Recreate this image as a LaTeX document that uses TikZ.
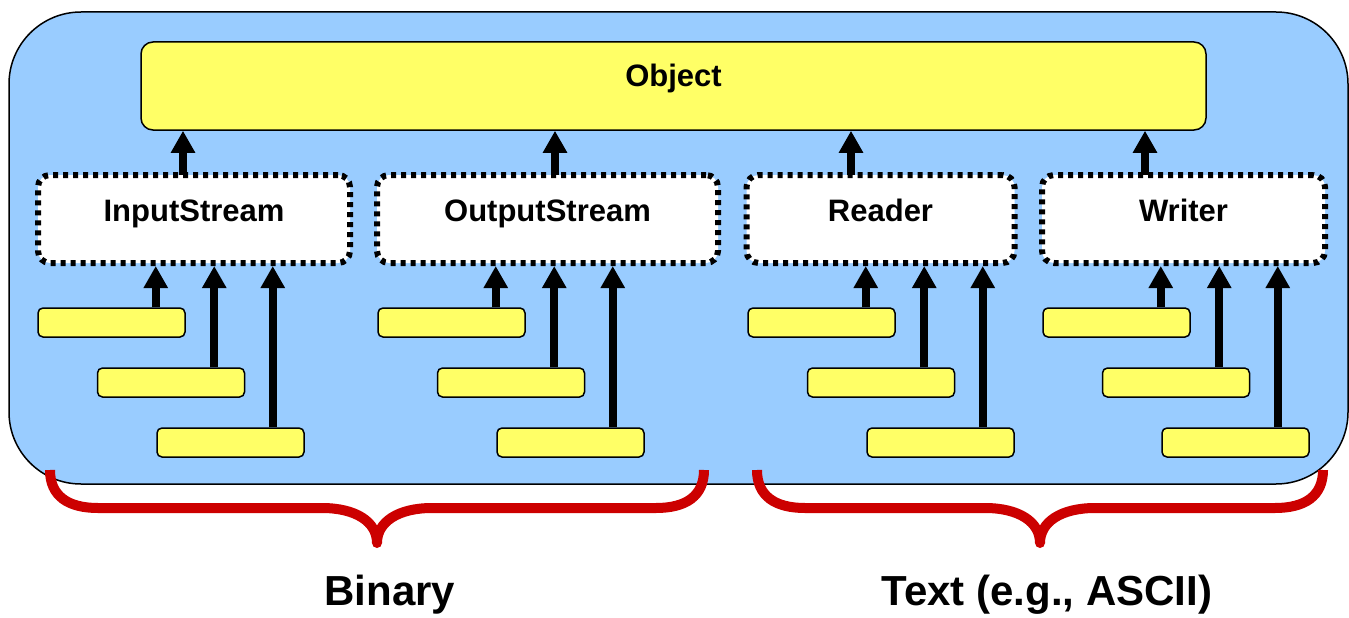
\documentclass[tikz,border=0pt]{standalone}
\usepackage{fontspec}
\setmainfont{Liberation Sans}
\usetikzlibrary{arrows.meta,calc}
\definecolor{bgblue}{HTML}{99CCFF}
\definecolor{boxyellow}{HTML}{FFFF66}
\definecolor{bracered}{HTML}{CC0000}
\tikzset{
  container/.style={draw=black, line width=1.5pt, fill=bgblue, rounded corners=72pt},
  objbox/.style={draw=black, line width=1.5pt, fill=boxyellow, rounded corners=12pt, inner sep=0pt,
    minimum width=1065pt, minimum height=88pt, text height=23pt, text depth=22pt,
    font=\fontsize{31pt}{36pt}\selectfont\bfseries},
  absbox/.style={draw=black, fill=white, line width=6pt, dash pattern=on 5pt off 5pt, rounded corners=12pt,
    inner sep=0pt, minimum height=88pt, text height=23pt, text depth=19pt,
    font=\fontsize{31pt}{36pt}\selectfont\bfseries},
  leafbox/.style={draw=black, line width=1.5pt, fill=boxyellow, rounded corners=5pt, inner sep=0pt,
    minimum width=147pt, minimum height=29pt},
  upar/.style={line width=8pt, -{Triangle[length=22pt,width=23pt]}},
  bracepath/.style={draw=bracered, line width=10pt, line cap=butt},
  grouplabel/.style={font=\fontsize{42pt}{48pt}\selectfont\bfseries, inner sep=0pt}
}
\begin{document}
\begin{tikzpicture}[x=1pt,y=-1pt]
\useasboundingbox (0,0) rectangle (1349,618);
% container
\path[container] (9,12) rectangle (1348,484);
% Object
\node[objbox] (obj) at (673.5,86) {Object};
% abstract classes
\node[absbox, minimum width=312pt] (is) at (194,219) {InputStream};
\node[absbox, minimum width=341pt] (os) at (547.5,219) {OutputStream};
\node[absbox, minimum width=268pt] (rd) at (880.5,219) {Reader};
\node[absbox, minimum width=283pt] (wr) at (1183.5,219) {Writer};
% arrows to Object
\coordinate (ais) at (183,175);
\coordinate (aos) at (555,175);
\coordinate (ard) at (851,175);
\coordinate (awr) at (1145,175);
\foreach \c in {ais,aos,ard,awr}{
  \draw[upar] (\c) -- (\c |- obj.south);
}
% leaf boxes
\foreach \g/\x in {is/38, os/378, rd/748, wr/1043}{
  \node[leafbox] (\g1) at (\x+73.5,322.5) {};
  \node[leafbox] (\g2) at (\x+133,382.5) {};
  \node[leafbox] (\g3) at (\x+192.5,442.5) {};
  \coordinate (\g a1) at ($(\g1.north east)+(-30,0)$);
  \coordinate (\g a2) at ($(\g2.north east)+(-31,0)$);
  \coordinate (\g a3) at ($(\g3.north east)+(-32,0)$);
  \draw[upar] (\g a1) -- (\g a1 |- \g.south);
  \draw[upar] (\g a2) -- (\g a2 |- \g.south);
  \draw[upar] (\g a3) -- (\g a3 |- \g.south);
}
% braces
\path[bracepath] (50,470) .. controls (50,496) and (68,508) .. (98,508) -- (322,508)
  .. controls (356,508) and (377,522) .. (377,543);
\path[bracepath] (704,470) .. controls (704,496) and (686,508) .. (656,508) -- (432,508)
  .. controls (398,508) and (377,522) .. (377,543);
\fill[bracered] (377,543) circle (5);
\path[bracepath] (757,470) .. controls (757,496) and (775,508) .. (805,508) -- (985,508)
  .. controls (1019,508) and (1040,522) .. (1040,543);
\path[bracepath] (1323,470) .. controls (1323,496) and (1305,508) .. (1275,508) -- (1095,508)
  .. controls (1061,508) and (1040,522) .. (1040,543);
\fill[bracered] (1040,543) circle (5);
% labels
\node[grouplabel] (lbin) at (390,595) {Binary};
\node[grouplabel] (ltxt) at (1047,595) {Text (e.g., ASCII)};
\end{tikzpicture}
\end{document}
